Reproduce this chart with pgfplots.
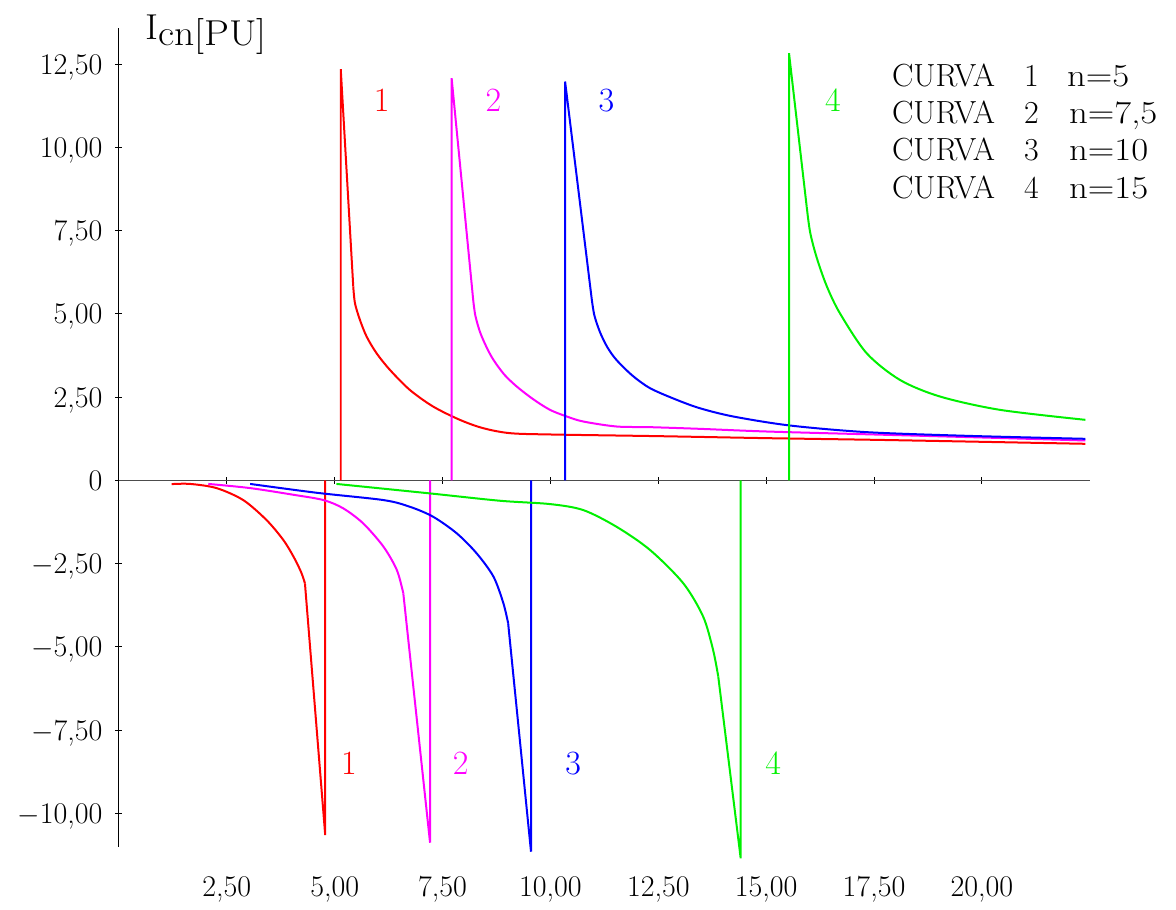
\documentclass[border=0pt]{standalone}
\usepackage{graphicx}
\usepackage{pgfplots}
\pgfplotsset{compat=1.18}
\definecolor{cred}{RGB}{255,0,0}
\definecolor{cmag}{RGB}{255,0,255}
\definecolor{cblue}{RGB}{0,0,255}
\definecolor{cgreen}{RGB}{0,240,0}
\newcommand{\tfont}{\fontsize{15}{17}\selectfont}
\newcommand{\lfont}{\fontsize{16}{19}\selectfont}
\newcommand{\wide}[1]{\scalebox{1.15}[1]{#1}}
\begin{document}
\begin{tikzpicture}
\begin{axis}[
  x=21.575pt, y=16.65pt,
  xmin=0, xmax=22.5, ymin=-11, ymax=13.6,
  axis x line*=middle, axis y line*=left,
  clip=false,
  xtick={2.5,5,7.5,10,12.5,15,17.5,20},
  xticklabels={{2,50},{5,00},{7,50},{10,00},{12,50},{15,00},{17,50},{20,00}},
  ytick={-10,-7.5,-5,-2.5,0,2.5,5,7.5,10,12.5},
  yticklabels={{$-$10,00},{$-$7,50},{$-$5,00},{$-$2,50},{0},{2,50},{5,00},{7,50},{10,00},{12,50}},
  major tick length=3.5pt, tick align=center,
  tick style={black, line width=0.5pt},
  x axis line style={black!70, line width=0.5pt},
  y axis line style={black, line width=0.5pt},
  tick label style={font=\tfont},
  xticklabel style={anchor=base, yshift=-206.4pt},
  yticklabel style={anchor=base east, yshift=-5pt, xshift=-3pt},
  every axis plot/.append style={line width=1pt},
]
% curve 1 (n=5)
\addplot[cred] coordinates {(5.14,0) (5.14,12.35) (5.43,5.82)};
\addplot[cred, smooth, tension=0.5] coordinates {(5.43,5.82) (5.47,5.32) (5.585,4.82) (5.74,4.32) (5.97,3.82) (6.28,3.32) (6.74,2.72) (7.28,2.22) (7.90,1.82) (8.44,1.57) (9.06,1.42) (10.0,1.38) (12.5,1.33) (15,1.27) (17.5,1.22) (20,1.16) (22.4,1.10)};
\addplot[cred, smooth, tension=0.5] coordinates {(1.22,-0.11) (1.65,-0.105) (2.26,-0.23) (2.88,-0.59) (3.42,-1.19) (3.81,-1.79) (4.05,-2.30) (4.22,-2.75) (4.31,-3.09)};
\addplot[cred] coordinates {(4.31,-3.09) (4.78,-10.65) (4.78,0)};
% curve 2 (n=7,5)
\addplot[cmag] coordinates {(7.71,0) (7.71,12.08) (8.21,5.42)};
\addplot[cmag, smooth, tension=0.5] coordinates {(8.21,5.42) (8.26,4.95) (8.37,4.45) (8.52,4.00) (8.68,3.62) (8.93,3.18) (9.22,2.82) (9.60,2.44) (9.99,2.12) (10.38,1.92) (10.76,1.77) (11.53,1.62) (12.31,1.60) (13.46,1.55) (15,1.47) (17.5,1.38) (20,1.29) (22.4,1.20)};
\addplot[cmag, smooth, tension=0.5] coordinates {(2.07,-0.105) (3.04,-0.23) (4.04,-0.43) (4.74,-0.59) (5.20,-0.84) (5.66,-1.29) (6.13,-1.99) (6.44,-2.69) (6.59,-3.39)};
\addplot[cmag] coordinates {(6.59,-3.39) (7.21,-10.88) (7.21,0)};
% curve 3 (n=10)
\addplot[cblue] coordinates {(10.34,0) (10.34,11.98) (10.96,5.42)};
\addplot[cblue, smooth, tension=0.5] coordinates {(10.96,5.42) (11.02,4.95) (11.15,4.45) (11.32,4.00) (11.53,3.62) (11.90,3.15) (12.31,2.77) (12.89,2.44) (13.46,2.17) (14.24,1.92) (15.55,1.65) (17.33,1.45) (19.65,1.34) (22.4,1.25)};
\addplot[cblue, smooth, tension=0.5] coordinates {(3.04,-0.105) (4.58,-0.37) (6.13,-0.59) (6.74,-0.79) (7.28,-1.09) (7.83,-1.59) (8.29,-2.19) (8.68,-2.89) (8.91,-3.69) (9.02,-4.29)};
\addplot[cblue] coordinates {(9.02,-4.29) (9.55,-11.15) (9.55,0)};
% curve 4 (n=15)
\addplot[cgreen] coordinates {(15.53,0) (15.53,12.83) (15.94,8.22)};
\addplot[cgreen, smooth, tension=0.5] coordinates {(15.94,8.22) (16.02,7.45) (16.17,6.70) (16.40,5.85) (16.71,5.02) (17.33,3.82) (18.10,3.02) (19.03,2.52) (20.42,2.12) (22.4,1.82)};
\addplot[cgreen, smooth, tension=0.5] coordinates {(5.04,-0.105) (7.21,-0.39) (8.83,-0.61) (9.99,-0.71) (10.76,-0.89) (11.53,-1.39) (12.31,-2.09) (13.08,-3.09) (13.54,-4.09) (13.77,-5.09) (13.89,-5.89)};
\addplot[cgreen] coordinates {(13.89,-5.89) (14.41,-11.35) (14.41,0)};
% curve numbers
\node[cred, font=\fontsize{17}{20}\selectfont, anchor=base, inner sep=0] at (axis cs:6.09,11.07) {1};
\node[cmag, font=\fontsize{17}{20}\selectfont, anchor=base, inner sep=0] at (axis cs:8.68,11.07) {2};
\node[cblue, font=\fontsize{17}{20}\selectfont, anchor=base, inner sep=0] at (axis cs:11.30,11.07) {3};
\node[cgreen, font=\fontsize{17}{20}\selectfont, anchor=base, inner sep=0] at (axis cs:16.55,11.07) {4};
\node[cred, font=\fontsize{17}{20}\selectfont, anchor=base, inner sep=0] at (axis cs:5.33,-8.84) {1};
\node[cmag, font=\fontsize{17}{20}\selectfont, anchor=base, inner sep=0] at (axis cs:7.92,-8.84) {2};
\node[cblue, font=\fontsize{17}{20}\selectfont, anchor=base, inner sep=0] at (axis cs:10.53,-8.84) {3};
\node[cgreen, font=\fontsize{17}{20}\selectfont, anchor=base, inner sep=0] at (axis cs:15.16,-8.84) {4};
% y label
\node[font=\fontsize{18}{21}\selectfont, anchor=base west, inner sep=0] at (axis cs:0.60,13.25) {\scalebox{1.1}[1]{I\raisebox{-3.3pt}{cn[PU]}}};
% legend text
\node[font=\lfont, anchor=base west, inner sep=0] at (axis cs:17.91,11.83) {\makebox[66pt][l]{CURVA}\makebox[21.5pt][l]{1}\wide{n=5}};
\node[font=\lfont, anchor=base west, inner sep=0] at (axis cs:17.91,10.73) {\makebox[66pt][l]{CURVA}\makebox[22.5pt][l]{2}\wide{n=7,5}};
\node[font=\lfont, anchor=base west, inner sep=0] at (axis cs:17.91,9.60) {\makebox[66pt][l]{CURVA}\makebox[22.5pt][l]{3}\wide{n=10}};
\node[font=\lfont, anchor=base west, inner sep=0] at (axis cs:17.91,8.47) {\makebox[66pt][l]{CURVA}\makebox[22.5pt][l]{4}\wide{n=15}};
% page frame
\path (axis cs:-2.758,-12.505) rectangle (axis cs:24.50,14.43);
\end{axis}
\end{tikzpicture}
\end{document}
